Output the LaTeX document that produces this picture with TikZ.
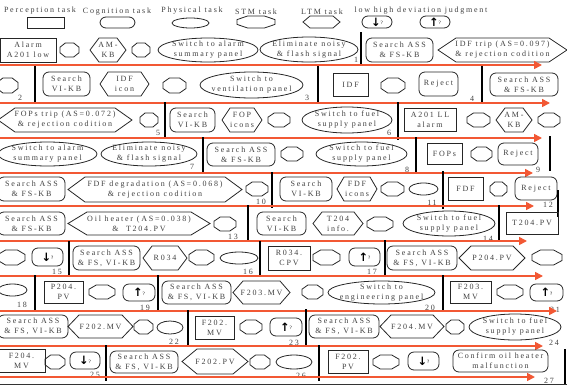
\documentclass[tikz,border=0pt]{standalone}
\usepackage{fontspec}
\setmainfont{Liberation Serif}[LetterSpace=22]
\newfontfamily\dgarrowfont{DejaVu Sans}
\usetikzlibrary{arrows.meta}
\definecolor{tl}{RGB}{242,88,52}
\definecolor{txtc}{RGB}{65,65,65}
\newcommand\dglbl{\fontsize{8}{10}\selectfont}
% shapes: name x1 y1 x2 y2 text
\newcommand\rectN[6]{\draw[shp] (#2,#3) rectangle (#4,#5);
 \node[txt] (#1) at ({(#2+#4)/2},{(#3+#5)/2}) {#6};}
\newcommand\cogN[6]{\draw[shp,rounded corners=6pt] (#2,#3) rectangle (#4,#5);
 \node[txt] (#1) at ({(#2+#4)/2},{(#3+#5)/2}) {#6};}
\newcommand\ellN[6]{\draw[shp] ({(#2+#4)/2},{(#3+#5)/2}) ellipse [x radius={(#4-#2)/2*1pt}, y radius={(#5-#3)/2*1pt}];
 \node[txt] (#1) at ({(#2+#4)/2},{(#3+#5)/2}) {#6};}
\newcommand\hexN[7]{\draw[shp] (#2,{(#3+#5)/2}) -- ({#2+#6},#3) -- ({#4-#6},#3) -- (#4,{(#3+#5)/2}) -- ({#4-#6},#5) -- ({#2+#6},#5) -- cycle;
 \node[txt] (#1) at ({(#2+#4)/2},{(#3+#5)/2}) {#7};}
\newcommand\octN[5]{\pgfmathsetmacro\ocx{0.28*(#4-#2)}\pgfmathsetmacro\ocy{0.3*(#5-#3)}%
 \draw[shp] ({#2+\ocx},#3) -- ({#4-\ocx},#3) -- (#4,{#3+\ocy}) -- (#4,{#5-\ocy}) -- ({#4-\ocx},#5) -- ({#2+\ocx},#5) -- (#2,{#5-\ocy}) -- (#2,{#3+\ocy}) -- cycle;
 \coordinate (#1) at ({(#2+#4)/2},{(#3+#5)/2});}
\newcommand\devN[6]{\draw[shp,rounded corners=6pt] (#2,#3) rectangle (#4,#5);
 \node[txt,text=black] (#1) at ({(#2+#4)/2},{(#3+#5)/2}) {{\dgarrowfont\bfseries\fontsize{11.5}{11.5}\selectfont #6}\raisebox{1.5pt}{\fontsize{5}{5}\selectfont ?}};}
\begin{document}
\begin{tikzpicture}[x=1pt,y=-1pt,
 shp/.style={draw=black!85, line width=0.8pt},
 txt/.style={inner sep=0pt, align=center, text=txtc, font=\dglbl},
 numlab/.style={inner sep=0pt, text=txtc, font=\dglbl},
 vl/.style={line width=1.8pt, black},
 tline/.style={line width=1.6pt, tl, -{Triangle[length=8pt,width=8pt]}}]
\useasboundingbox (0,0) rectangle (567,386);
% legend
\node[numlab] (lgPt) at (40,11) {Perception task};
\node[numlab] (lgCt) at (117,12) {Cognition task};
\node[numlab] (lgYt) at (192,11) {Physical task};
\node[numlab] (lgSt) at (256,12) {STM task};
\node[numlab] (lgLt) at (322,12) {LTM task};
\node[numlab] (lgDt) at (421,11) {low high deviation judgment};
\rectN{lgr}{27}{17}{64}{28}{}
\cogN{lgc}{100}{17}{135}{28}{}
\ellN{lge}{172}{18}{209}{28}{}
\octN{lgo}{237}{16}{275}{28}
\hexN{lgh}{303}{16}{340}{28}{7}{}
\devN{lgd}{362}{16}{392}{28}{↓}
\devN{lgu}{420}{16}{450}{28}{↑}
% row 1
\rectN{r1a}{0}{38}{56}{62}{Alarm\\A201 low}
\octN{r1b}{60}{43}{79}{57}
\hexN{r1c}{90}{38}{126}{62}{9}{AM-\\KB}
\octN{r1d}{132}{43}{150}{57}
\ellN{r1e}{158}{38}{258}{62}{Switch to alarm\\summary panel}
\ellN{r1f}{260}{37}{358}{62}{Eliminate noisy\\\& flash signal}
\node[numlab] (n1) at (356,60) {1};
\draw[vl] (361,32) -- (361,66);
\cogN{r1g}{366}{38}{433}{62}{Search ASS\\\& FS-KB}
\hexN{r1h}{438}{38}{567}{62}{18}{IDF trip (AS=0.097)\\\& rejection codition}
\draw[tline] (0,65) -- (542,65);
% row 2
\octN{r2a}{-3}{78}{18}{93}
\node[numlab] (n2) at (20,98) {2};
\draw[vl] (35,66) -- (35,103);
\cogN{r2b}{43}{72}{90}{96}{Search\\VI-KB}
\hexN{r2c}{100}{72}{149}{96}{8}{IDF\\icon}
\octN{r2d}{163}{78}{186}{93}
\ellN{r2e}{200}{72}{303}{98}{Switch to\\ventilation panel}
\node[numlab] (n3) at (307,98) {3};
\draw[vl] (318,66) -- (318,103);
\rectN{r2f}{333}{73}{368}{96}{IDF}
\octN{r2g}{381}{78}{405}{93}
\cogN{r2h}{419}{72}{458}{96}{Reject}
\node[numlab] (n4) at (472,99) {4};
\draw[vl] (482,66) -- (482,103);
\cogN{r2i}{490}{73}{558}{96}{Search ASS\\\& FS-KB}
\draw[tline] (0,103) -- (550,103);
% row 3
\hexN{r3a}{-2}{108}{132}{132}{17}{FOPs trip (AS=0.072)\\\& rejection codition}
\octN{r3b}{140}{113}{158}{127}
\node[numlab] (n5) at (158,133) {5};
\draw[vl] (165,102) -- (165,139);
\cogN{r3c}{170}{108}{215}{132}{Search\\VI-KB}
\hexN{r3d}{222}{108}{262}{132}{8}{FOP\\icons}
\octN{r3e}{268}{113}{290}{127}
\ellN{r3f}{302}{107}{392}{133}{Switch to fuel\\supply panel}
\node[numlab] (n6) at (389,133) {6};
\draw[vl] (398,102) -- (398,140);
\rectN{r3g}{404}{108}{456}{131}{A201 LL\\alarm}
\octN{r3h}{467}{113}{490}{127}
\hexN{r3i}{496}{108}{532}{132}{9}{AM-\\KB}
\octN{r3j}{538}{113}{560}{127}
\draw[tline] (0,138) -- (542,138);
% row 4
\ellN{r4a}{-2}{142}{97}{166}{Switch to alarm\\summary panel}
\ellN{r4b}{101}{142}{197}{166}{Eliminate noisy\\\& flash signal}
\node[numlab] (n7) at (192,167) {7};
\draw[vl] (203,137) -- (203,173);
\cogN{r4c}{207}{143}{275}{166}{Search ASS\\\& FS-KB}
\octN{r4d}{281}{147}{303}{161}
\ellN{r4e}{316}{142}{407}{166}{Switch to fuel\\supply panel}
\node[numlab] (n8) at (407,170) {8};
\draw[vl] (416,137) -- (416,173);
\rectN{r4f}{427}{143}{462}{164}{FOPs}
\octN{r4g}{471}{147}{492}{161}
\cogN{r4h}{498}{143}{538}{165}{Reject}
\node[numlab] (n9) at (538,170) {9};
\draw[vl] (550,136) -- (550,171);
\draw[tline] (0,173) -- (533,173);
% row 5
\cogN{r5a}{-2}{177}{65}{201}{Search ASS\\\& FS-KB}
\hexN{r5b}{68}{177}{242}{202}{17}{FDF degradation (AS=0.068)\\\& rejection codition}
\octN{r5c}{246}{182}{268}{196}
\node[numlab] (n10) at (261,202) {10};
\draw[vl] (272,172) -- (272,208);
\cogN{r5d}{280}{177}{332}{201}{Search\\VI-KB}
\hexN{r5e}{337}{177}{377}{201}{7}{FDF\\icons}
\octN{r5f}{381}{182}{404}{196}
\ellN{r5g}{409}{183}{438}{195}{}
\node[numlab] (n11) at (432,203) {11};
\draw[vl] (443,171) -- (443,209);
\rectN{r5h}{448}{177}{483}{200}{FDF}
\octN{r5i}{490}{182}{507}{196}
\cogN{r5j}{515}{177}{557}{200}{Reject}
\node[numlab] (n12) at (548,205) {12};
\draw[vl] (558,190) -- (558,217);
\draw[tline] (0,206) -- (534,206);
% row 6
\cogN{r6a}{-2}{212}{65}{235}{Search ASS\\\& FS-KB}
\hexN{r6b}{68}{212}{210}{235}{19}{Oil heater (AS=0.038)\\\&\ \ T204.PV}
\octN{r6c}{214}{217}{236}{231}
\node[numlab] (n13) at (233,237) {13};
\draw[vl] (248,205) -- (248,242);
\cogN{r6d}{257}{212}{306}{235}{Search\\VI-KB}
\hexN{r6e}{313}{212}{363}{235}{9}{T204\\info.}
\octN{r6f}{367}{217}{393}{231}
\ellN{r6g}{403}{211}{495}{236}{Switch to fuel\\supply panel}
\node[numlab] (n14) at (488,239) {14};
\draw[vl] (499,205) -- (499,242);
\rectN{r6h}{506}{212}{558}{234}{T204.PV}
\draw[tline] (0,241) -- (527,241);
% row 7
\octN{r7a}{-2}{250}{25}{265}
\devN{r7b}{32}{248}{63}{266}{↓}
\node[numlab] (n15) at (57,272) {15};
\draw[vl] (69,241) -- (69,277);
\cogN{r7c}{73}{246}{140}{270}{Search ASS\\\& FS, VI-KB}
\hexN{r7d}{143}{246}{187}{270}{9}{R034}
\octN{r7e}{189}{250}{214}{265}
\ellN{r7f}{220}{252}{258}{264}{}
\node[numlab] (n16) at (248,272) {16};
\draw[vl] (260,241) -- (260,277);
\rectN{r7g}{268}{246}{310}{270}{R034.\\CPV}
\octN{r7h}{313}{250}{340}{265}
\devN{r7i}{349}{248}{380}{266}{↑}
\node[numlab] (n17) at (372,272) {17};
\draw[vl] (385,240) -- (385,277);
\cogN{r7j}{387}{246}{457}{270}{Search ASS\\\& FS, VI-KB}
\hexN{r7k}{459}{246}{525}{270}{12}{P204.PV}
\octN{r7l}{532}{250}{562}{265}
\draw[tline] (0,276) -- (543,276);
% row 8
\ellN{r8a}{-2}{284}{27}{296}{}
\node[numlab] (n18) at (22,305) {18};
\draw[vl] (35,275) -- (35,311);
\rectN{r8b}{44}{281}{83}{303}{P204.\\PV}
\octN{r8c}{89}{285}{115}{299}
\devN{r8d}{123}{284}{155}{301}{↑}
\node[numlab] (n19) at (145,308) {19};
\draw[vl] (158,275) -- (158,311);
\cogN{r8e}{162}{281}{231}{304}{Search ASS\\\& FS, VI-KB}
\hexN{r8f}{233}{281}{290}{304}{10}{F203.MV}
\octN{r8g}{302}{285}{323}{299}
\ellN{r8h}{328}{281}{435}{304}{Switch to\\engineering panel}
\node[numlab] (n20) at (430,308) {20};
\draw[vl] (443,275) -- (443,311);
\rectN{r8i}{450}{281}{491}{303}{F203.\\MV}
\octN{r8j}{497}{285}{523}{299}
\devN{r8k}{530}{284}{563}{301}{↑}
\node[numlab] (n21) at (555,310) {21};
\draw[tline] (0,311) -- (557,311);
% row 9
\cogN{r9a}{-2}{315}{68}{338}{Search ASS\\\& FS, VI-KB}
\hexN{r9b}{68}{315}{133}{338}{11}{F202.MV}
\octN{r9c}{134}{320}{153}{334}
\ellN{r9d}{157}{321}{183}{334}{}
\node[numlab] (n22) at (174,342) {22};
\draw[vl] (188,310) -- (188,345);
\rectN{r9e}{195}{316}{234}{339}{F202.\\MV}
\octN{r9f}{240}{320}{262}{334}
\devN{r9g}{270}{318}{302}{336}{↑}
\node[numlab] (n23) at (294,343) {23};
\draw[vl] (306,309) -- (306,345);
\cogN{r9h}{309}{315}{379}{338}{Search ASS\\\& FS, VI-KB}
\hexN{r9i}{380}{315}{444}{338}{11}{F204.MV}
\octN{r9j}{446}{320}{464}{334}
\ellN{r9k}{469}{314}{561}{340}{Switch to fuel\\supply panel}
\node[numlab] (n24) at (554,343) {24};
\draw[tline] (0,346) -- (543,346);
% row 10
\rectN{r10a}{-2}{349}{45}{372}{F204.\\MV}
\octN{r10b}{45}{355}{65}{369}
\devN{r10c}{70}{352}{100}{369}{↓}
\node[numlab] (n25) at (95,375) {25};
\draw[vl] (106,345) -- (106,381);
\cogN{r10d}{110}{351}{178}{373}{Search ASS\\\& FS, VI-KB}
\hexN{r10e}{182}{349}{248}{374}{15}{F202.PV}
\octN{r10f}{250}{355}{270}{369}
\ellN{r10g}{276}{355}{312}{369}{}
\node[numlab] (n26) at (301,376) {26};
\draw[vl] (319,345) -- (319,381);
\rectN{r10h}{328}{350}{368}{373}{F202.\\PV}
\octN{r10i}{373}{355}{399}{369}
\devN{r10j}{408}{352}{439}{370}{↓}
\cogN{r10k}{453}{350}{548}{372}{Confirm oil heater\\malfunction}
\node[numlab] (n27) at (549,381) {27};
\draw[vl] (565,349) -- (565,385);
\draw[tline] (0,377) -- (535,377);
\draw[line width=1pt, black!80] (0,384) -- (567,384);
\end{tikzpicture}
\end{document}
